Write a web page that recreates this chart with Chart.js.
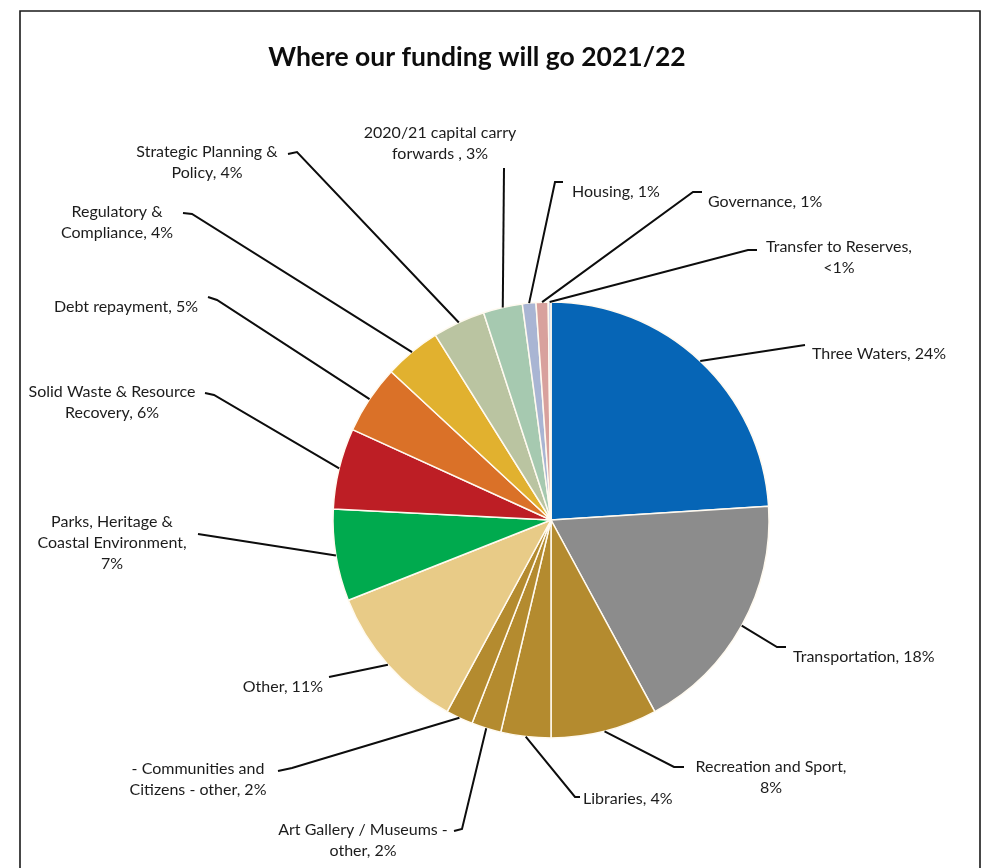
<!DOCTYPE html>
<html>
<head>
<meta charset="utf-8">
<title>Where our funding will go 2021/22</title>
<script src="https://cdn.jsdelivr.net/npm/chart.js@4.4.1/dist/chart.umd.min.js"></script>
<style>
    html, body { margin: 0; padding: 0; background: #fff; }
    canvas { display: block; }
</style>
</head>
<body>
<canvas id="fundingChart" width="985" height="868"></canvas>
<script>
const categories = [
    'Three Waters',
    'Transportation',
    'Recreation and Sport',
    'Libraries',
    'Art Gallery / Museums - other',
    '- Communities and Citizens - other',
    'Other',
    'Parks, Heritage & Coastal Environment',
    'Solid Waste & Resource Recovery',
    'Debt repayment',
    'Regulatory & Compliance',
    'Strategic Planning & Policy',
    '2020/21 capital carry forwards ',
    'Housing',
    'Governance',
    'Transfer to Reserves'
];

// share of total spend, %
const shares = [24.0, 18.1, 7.9, 3.7, 2.2, 2.0, 11.1, 6.8, 6.0, 5.1, 4.2, 3.9, 2.9, 1.0, 0.9, 0.2];
const shareLabels = ['24%', '18%', '8%', '4%', '2%', '2%', '11%', '7%', '6%', '5%', '4%', '4%', '3%', '1%', '1%', '<1%'];

const sliceColors = [
    '#0665b6', '#8c8c8c', '#b48b2f', '#b48b2f', '#b48b2f', '#b48b2f',
    '#e8cb87', '#00aa4e', '#bd1e25', '#da7128', '#e1b12f', '#bac4a1',
    '#a6c9b0', '#a9b5d3', '#d8a19d', '#c9d3ea'
];

// where each label sits: words per line, anchor, alignment and the leader bends
const labelLayout = [
    { wrap: [4],       x: 812, y: 354, align: 'left',   bends: [[805, 345]] },
    { wrap: [2],       x: 793, y: 657, align: 'left',   bends: [[777, 647], [786, 647]] },
    { wrap: [3, 1],    x: 771, y: 767, align: 'center', bends: [[674, 767], [684, 767]] },
    { wrap: [2],       x: 583, y: 799, align: 'left',   bends: [[575, 797], [580, 797]] },
    { wrap: [5, 2],    x: 363, y: 830, align: 'center', bends: [[462, 829], [454, 831]] },
    { wrap: [3, 4],    x: 198, y: 769, align: 'center', bends: [[292, 768], [278, 771]] },
    { wrap: [2],       x: 323, y: 687, align: 'right',  bends: [[329, 677]] },
    { wrap: [3, 2, 1], x: 112, y: 522, align: 'center', bends: [[198, 534]] },
    { wrap: [4, 2],    x: 112, y: 392, align: 'center', bends: [[214, 395], [205, 393]] },
    { wrap: [3],       x: 126, y: 307, align: 'center', bends: [[217, 300], [208, 297]] },
    { wrap: [2, 2],    x: 117, y: 212, align: 'center', bends: [[192, 214], [183, 213]] },
    { wrap: [3, 2],    x: 207, y: 152, align: 'center', bends: [[297, 152], [288, 154]] },
    { wrap: [3, 3],    x: 440, y: 133, align: 'center', bends: [[504, 168]] },
    { wrap: [2],       x: 572, y: 192, align: 'left',   bends: [[555, 182], [563, 182]] },
    { wrap: [2],       x: 708, y: 202, align: 'left',   bends: [[693, 192], [702, 192]] },
    { wrap: [3, 1],    x: 839, y: 247, align: 'center', bends: [[748, 250], [757, 250]] }
];

const LABEL_FONT = '16px Lato, "Open Sans", sans-serif';
const LINE_HEIGHT = 21;

function splitLines(text, wrap) {
    const words = text.split(' ');
    const lines = [];
    let i = 0;
    wrap.forEach(function (n) {
        lines.push(words.slice(i, i + n).join(' '));
        i += n;
    });
    return lines;
}

const calloutPlugin = {
    id: 'callouts',
    afterDraw(chart) {
        const ctx = chart.ctx;
        const meta = chart.getDatasetMeta(0);
        ctx.save();

        // frame
        ctx.strokeStyle = '#1a1a1a';
        ctx.lineWidth = 1.6;
        ctx.beginPath();
        ctx.moveTo(20, 868);
        ctx.lineTo(20, 11);
        ctx.lineTo(980, 11);
        ctx.lineTo(980, 868);
        ctx.stroke();

        // title
        ctx.fillStyle = '#0d0d0d';
        ctx.font = 'bold 26.5px Lato, "Open Sans", sans-serif';
        ctx.textAlign = 'center';
        ctx.textBaseline = 'middle';
        ctx.fillText('Where our funding will go 2021/22', 477, 57);

        meta.data.forEach(function (arc, i) {
            const p = arc.getProps(['x', 'y', 'startAngle', 'endAngle', 'outerRadius'], true);
            const mid = (p.startAngle + p.endAngle) / 2;
            const sx = p.x + Math.cos(mid) * p.outerRadius;
            const sy = p.y + Math.sin(mid) * p.outerRadius;
            const lay = labelLayout[i];

            ctx.strokeStyle = '#0d0d0d';
            ctx.lineWidth = 2;
            ctx.beginPath();
            ctx.moveTo(sx, sy);
            lay.bends.forEach(function (b) { ctx.lineTo(b[0], b[1]); });
            ctx.stroke();

            const text = categories[i] + ', ' + shareLabels[i];
            const lines = splitLines(text, lay.wrap);
            ctx.fillStyle = '#1c1c1c';
            ctx.font = LABEL_FONT;
            ctx.textAlign = lay.align;
            ctx.textBaseline = 'middle';
            lines.forEach(function (line, k) {
                ctx.fillText(line, lay.x, lay.y + k * LINE_HEIGHT);
            });
        });
        ctx.restore();
    }
};

const ctx = document.getElementById('fundingChart');

new Chart(ctx, {
    type: 'pie',
    data: {
        labels: categories,
        datasets: [{
            data: shares,
            backgroundColor: sliceColors,
            borderColor: '#fffaf0',
            borderWidth: 1.5,
            radius: 218
        }]
    },
    options: {
        responsive: false,
        animation: false,
        layout: {
            padding: { left: 140, right: 23, top: 220, bottom: 48 }
        },
        plugins: {
            legend: { display: false },
            tooltip: { enabled: false }
        }
    },
    plugins: [calloutPlugin]
});
</script>
</body>
</html>
